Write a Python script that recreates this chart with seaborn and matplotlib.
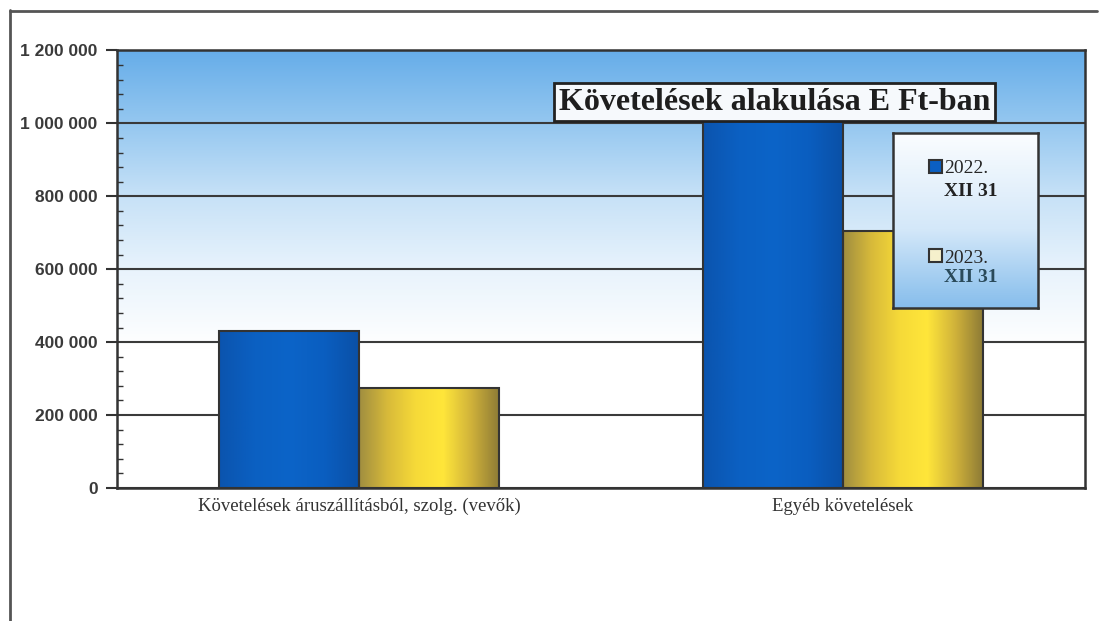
import numpy as np
import pandas as pd
import matplotlib
matplotlib.use("Agg")
import matplotlib.pyplot as plt
import seaborn as sns
from matplotlib.colors import LinearSegmentedColormap
from matplotlib.lines import Line2D
from matplotlib.patches import Patch
from matplotlib.ticker import FuncFormatter, MultipleLocator

# data (E Ft)
categories = ["Követelések áruszállításból, szolg. (vevők)", "Egyéb követelések"]
years = ["2022.", "2023."]
year_suffix = "XII 31"
values_2022 = [430000, 1040000]
values_2023 = [275000, 705000]
y_ticks = [0, 200000, 400000, 600000, 800000, 1000000, 1200000]
title = "Követelések alakulása E Ft-ban"

df = pd.DataFrame({
    "kategoria": categories * 2,
    "ev": [years[0]] * 2 + [years[1]] * 2,
    "ertek": values_2022 + values_2023,
})

sns.set_theme(style="white")
plt.rcParams["font.family"] = ["Liberation Serif", "DejaVu Serif"]

fig = plt.figure(figsize=(11, 6.21), dpi=100)
ax = fig.add_axes([0.1064, 0.2142, 0.8800, 0.7045])

# sky gradient behind the plot
grad = np.linspace(0, 1, 256).reshape(-1, 1)
bg_cmap = LinearSegmentedColormap.from_list(
    "bg", [(0, "white"), (0.32, "white"), (0.5, "#e8f3fc"), (0.67, "#c6e1f7"),
           (0.83, "#96c8f0"), (1, "#66ade9")])
ax.imshow(grad, cmap=bg_cmap, extent=[0, 1, 0, 1], transform=ax.transAxes,
          origin="lower", aspect="auto", zorder=0)

sns.barplot(data=df, x="kategoria", y="ertek", hue="ev",
            palette=["#0b5fc2", "#f2d235"], width=0.58, saturation=1,
            edgecolor="#333333", linewidth=1.5, legend=False, ax=ax, zorder=2)

# cylinder-ish shading on the bars
blue_cmap = LinearSegmentedColormap.from_list(
    "b", ["#0b54ae", "#0b60c2", "#0c64c8", "#0a5ec0", "#0a50a6"])
yellow_cmap = LinearSegmentedColormap.from_list(
    "y", ["#a08e40", "#d8ba3a", "#f6da38", "#ffe63a", "#d0b23a", "#8c7a36"])
row = np.linspace(0, 1, 128).reshape(1, -1)
for bar in ax.patches:
    fc = bar.get_facecolor()
    cmap = blue_cmap if fc[2] > fc[0] else yellow_cmap
    x, y, w, h = bar.get_x(), bar.get_y(), bar.get_width(), bar.get_height()
    im = ax.imshow(row, cmap=cmap, extent=[x, x + w, y, y + h],
                   aspect="auto", zorder=1.9)
    im.set_clip_path(bar)
    bar.set_facecolor("none")

ax.set_xlim(-0.5, 1.5)
ax.set_ylim(0, 1200000)
ax.set_xlabel("")
ax.set_ylabel("")

ax.set_axisbelow(True)
ax.yaxis.grid(True, color="#3a3a3a", linewidth=1.5)
ax.xaxis.grid(False)

ax.set_yticks(y_ticks)
ax.yaxis.set_major_formatter(FuncFormatter(lambda v, p: f"{int(v):,}".replace(",", " ")))
ax.yaxis.set_minor_locator(MultipleLocator(40000))
ax.tick_params(axis="y", which="major", direction="out", length=8, width=1.5,
               color="#333333", pad=6, left=True)
ax.tick_params(axis="y", which="minor", direction="in", length=4, width=1,
               color="#333333", left=True)
for lab in ax.get_yticklabels():
    lab.set_fontfamily("Liberation Sans")
    lab.set_fontweight("bold")
    lab.set_fontsize(12.5)
    lab.set_color("#3a3a3a")

ax.tick_params(axis="x", length=0, pad=7)
for lab in ax.get_xticklabels():
    lab.set_fontfamily("Liberation Serif")
    lab.set_fontsize(13.5)
    lab.set_color("#333333")

for sp in ax.spines.values():
    sp.set_visible(True)
    sp.set_color("#333333")
    sp.set_linewidth(1.8)

ax.text(0.679, 0.882, title, transform=ax.transAxes, ha="center", va="center",
        fontsize=23, fontweight="bold", family=["Liberation Serif"], color="#1e1e1e",
        zorder=10,
        bbox=dict(boxstyle="square,pad=0.15", facecolor="#f6f9fc",
                  edgecolor="#222222", linewidth=2))

# legend panel with its own gradient
lax = fig.add_axes([0.812, 0.504, 0.132, 0.282])
leg_cmap = LinearSegmentedColormap.from_list(
    "lg", [(0, "#86bdec"), (0.45, "#d4e8f9"), (1, "#fbfdff")])
lax.imshow(grad, cmap=leg_cmap, extent=[0, 1, 0, 1], origin="lower", aspect="auto")
lax.set_xlim(0, 1)
lax.set_ylim(0, 1)
lax.set_xticks([])
lax.set_yticks([])
for sp in lax.spines.values():
    sp.set_visible(True)
    sp.set_color("#333333")
    sp.set_linewidth(1.8)

handles = [Patch(facecolor="#0b5fc2", edgecolor="#333333", linewidth=1.5),
           Patch(facecolor="#f5f0cc", edgecolor="#333333", linewidth=1.5)]
lax.legend(handles, years, loc="upper left", bbox_to_anchor=(0.18, 0.9),
           frameon=False, fontsize=14, handlelength=0.65, handleheight=0.65,
           handletextpad=0.1, labelspacing=3.7, borderpad=0)
lax.text(0.35, 0.663, year_suffix, transform=lax.transAxes, ha="left", va="center",
         fontsize=14, fontweight="bold", color="#222222")
lax.text(0.35, 0.177, year_suffix, transform=lax.transAxes, ha="left", va="center",
         fontsize=14, fontweight="bold", color="#2a4a5a")

# outer frame of the scanned page
fig.add_artist(Line2D([10 / 1100, 1097 / 1100], [1 - 11 / 621, 1 - 11 / 621],
                      transform=fig.transFigure, color="#555555", linewidth=2))
fig.add_artist(Line2D([10 / 1100, 10 / 1100], [0, 1 - 10 / 621],
                      transform=fig.transFigure, color="#555555", linewidth=2))

fig.savefig("out.png", dpi=100)
